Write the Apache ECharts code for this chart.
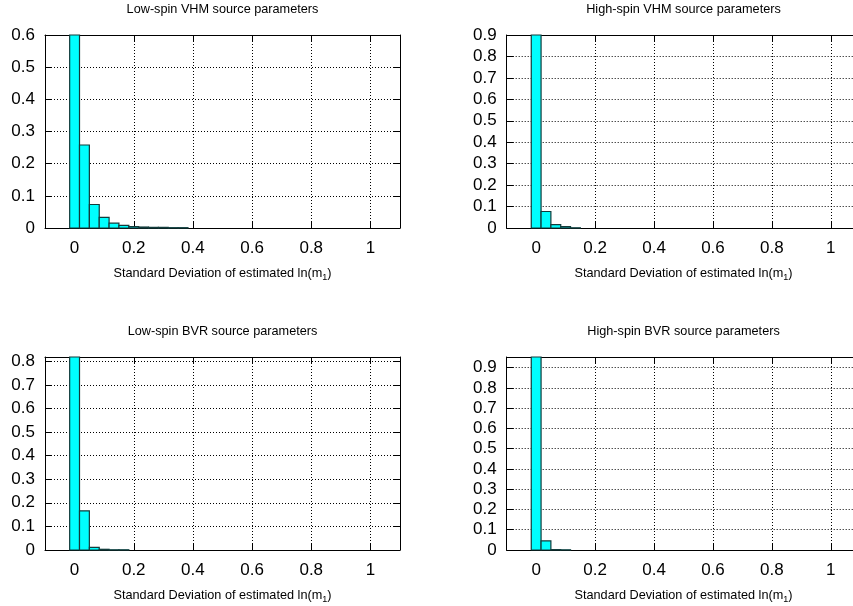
<!DOCTYPE html>
<html>
<head>
<meta charset="utf-8">
<script src="https://cdn.jsdelivr.net/npm/echarts@6/dist/echarts.min.js"></script>
<style>
  html, body { margin: 0; padding: 0; background: #fff; }
  #chart { width: 853px; height: 606px; }
</style>
</head>
<body>
<div id="chart"></div>
<script>
// Histogram bin centres (standard deviation of estimated ln(m1))
const binCenters = [0, 0.0333, 0.0667, 0.1, 0.1333, 0.1667, 0.2, 0.2333, 0.2667, 0.3, 0.3333, 0.3667, 0.4];
const BIN_WIDTH = 0.0333;

// Fraction of runs per bin, one array per source-parameter set
const lowSpinVHM  = [0.600, 0.258, 0.073, 0.033, 0.015, 0.008, 0.004, 0.003, 0.002, 0.002, 0.001, 0.001];
const highSpinVHM = [0.900, 0.077, 0.016, 0.006, 0.001];
const lowSpinBVR  = [0.818, 0.166, 0.011, 0.003, 0.001, 0.001];
const highSpinBVR = [0.952, 0.045, 0.002, 0.001];

// Tick labels
const xTicks = [0, 0.2, 0.4, 0.6, 0.8, 1];
const yTicksLowVHM  = [0, 0.1, 0.2, 0.3, 0.4, 0.5, 0.6];
const yTicksHighVHM = [0, 0.1, 0.2, 0.3, 0.4, 0.5, 0.6, 0.7, 0.8, 0.9];
const yTicksLowBVR  = [0, 0.1, 0.2, 0.3, 0.4, 0.5, 0.6, 0.7, 0.8];
const yTicksHighBVR = [0, 0.1, 0.2, 0.3, 0.4, 0.5, 0.6, 0.7, 0.8, 0.9];

const titles = [
  'Low-spin VHM source parameters',
  'High-spin VHM source parameters',
  'Low-spin BVR source parameters',
  'High-spin BVR source parameters'
];
const xTitle = 'Standard Deviation of estimated ln(m{sub|1})';

const panels = [
  { values: lowSpinVHM,  yTicks: yTicksLowVHM,  grid: { left: 45,    right: 453,  top: 35,  bottom: 378 } },
  { values: highSpinVHM, yTicks: yTicksHighVHM, grid: { left: 506.7, right: -7.3, top: 35,  bottom: 378 } },
  { values: lowSpinBVR,  yTicks: yTicksLowBVR,  grid: { left: 45,    right: 453,  top: 357, bottom: 56 } },
  { values: highSpinBVR, yTicks: yTicksHighBVR, grid: { left: 506.7, right: -7.3, top: 357, bottom: 56 } }
];

const FONT = "'Liberation Sans', Arial, Helvetica, sans-serif";
const border = { show: true, onZero: false, lineStyle: { color: '#000', width: 1 } };
const gridLine = { show: true, lineStyle: { color: '#000', width: 1, type: [1, 2] } };

const grids = [], xAxes = [], yAxes = [], series = [];

panels.forEach((p, i) => {
  grids.push(Object.assign({ outerBoundsMode: 'none', containLabel: false }, p.grid));
  const yMax = Math.max.apply(null, p.values);

  // bottom axis: labels, ticks, vertical grid
  xAxes.push({
    type: 'value', gridIndex: i, position: 'bottom', min: -0.1, max: 1.1,
    axisLine: border,
    axisTick: { show: true, inside: true, length: 6, customValues: xTicks, lineStyle: { color: '#000' } },
    axisLabel: { show: true, customValues: xTicks, margin: 12, fontSize: 17, color: '#000', fontFamily: FONT },
    splitLine: gridLine,
    name: xTitle, nameLocation: 'middle', nameGap: 37,
    nameTextStyle: {
      fontSize: 12.7, color: '#000', fontFamily: FONT,
      rich: { sub: { fontSize: 9, fontFamily: FONT, color: '#000', padding: [8, 0, 0, 0] } }
    }
  });
  // top mirror: border, ticks, panel title
  xAxes.push({
    type: 'value', gridIndex: i, position: 'top', min: -0.1, max: 1.1,
    axisLine: border,
    axisTick: { show: true, inside: true, length: 6, customValues: xTicks, lineStyle: { color: '#000' } },
    axisLabel: { show: false },
    splitLine: { show: false },
    name: titles[i], nameLocation: 'middle', nameGap: 19,
    nameTextStyle: { fontSize: 12.7, color: '#000', fontFamily: FONT }
  });
  // left axis: labels, ticks, horizontal grid
  yAxes.push({
    type: 'value', gridIndex: i, position: 'left', min: 0, max: yMax,
    axisLine: border,
    axisTick: { show: true, inside: true, length: 7, customValues: p.yTicks, lineStyle: { color: '#000' } },
    axisLabel: { show: true, customValues: p.yTicks, margin: 10, fontSize: 17, color: '#000', fontFamily: FONT },
    splitLine: gridLine
  });
  // right mirror
  yAxes.push({
    type: 'value', gridIndex: i, position: 'right', min: 0, max: yMax,
    axisLine: border,
    axisTick: { show: true, inside: true, length: 7, customValues: p.yTicks, lineStyle: { color: '#000' } },
    axisLabel: { show: false },
    splitLine: { show: false }
  });

  series.push({
    type: 'custom',
    xAxisIndex: 2 * i,
    yAxisIndex: 2 * i,
    data: p.values.map((v, k) => [binCenters[k], v]),
    renderItem: function (params, api) {
      const x = api.value(0), y = api.value(1);
      const topLeft = api.coord([x - BIN_WIDTH / 2, y]);
      const bottomRight = api.coord([x + BIN_WIDTH / 2, 0]);
      return {
        type: 'rect',
        shape: {
          x: topLeft[0], y: topLeft[1],
          width: bottomRight[0] - topLeft[0],
          height: bottomRight[1] - topLeft[1]
        },
        style: { fill: '#00ffff', stroke: '#123c3c', lineWidth: 1.2 }
      };
    },
    silent: true,
    animation: false
  });
});

const chart = echarts.init(document.getElementById('chart'), null, { renderer: 'canvas' });
chart.setOption({
  animation: false,
  backgroundColor: '#fff',
  grid: grids,
  xAxis: xAxes,
  yAxis: yAxes,
  series: series
});
</script>
</body>
</html>
